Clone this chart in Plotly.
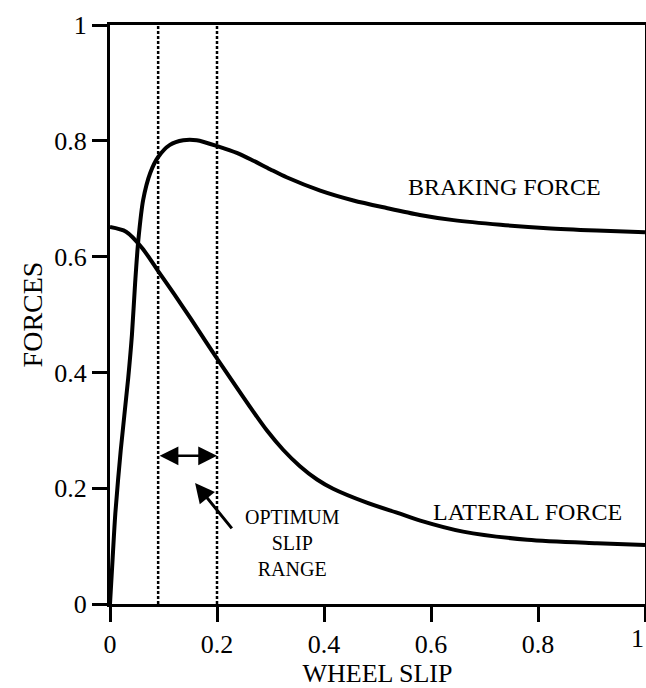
import plotly.graph_objects as go

# Data
braking_x = [0, 0.005, 0.01, 0.02, 0.034, 0.041, 0.047, 0.053, 0.062, 0.075, 0.09, 0.112,
             0.137, 0.162, 0.206, 0.237, 0.267, 0.299, 0.33, 0.393, 0.455, 0.517, 0.579,
             0.642, 0.73, 0.817, 0.91, 1.00]
braking_y = [0, 0.08, 0.157, 0.265, 0.39, 0.465, 0.555, 0.629, 0.698, 0.744, 0.772, 0.793,
             0.801, 0.801, 0.789, 0.779, 0.766, 0.751, 0.737, 0.714, 0.697, 0.684, 0.672,
             0.663, 0.655, 0.649, 0.645, 0.642]

lateral_x = [0, 0.03, 0.06, 0.09, 0.12, 0.15, 0.18, 0.2, 0.23, 0.262, 0.293, 0.324,
             0.355, 0.387, 0.417, 0.48, 0.542, 0.58, 0.66, 0.78, 0.91, 1.00]
lateral_y = [0.651, 0.643, 0.615, 0.575, 0.535, 0.494, 0.452, 0.424, 0.383, 0.34, 0.300,
             0.266, 0.238, 0.215, 0.199, 0.175, 0.156, 0.144, 0.125, 0.111, 0.105, 0.102]

optimum_range = [0.09, 0.20]
range_arrow_y = 0.256
pointer_head = (0.159, 0.209)
pointer_tail = (0.23, 0.128)

tick_vals = [0, 0.2, 0.4, 0.6, 0.8, 1]
tick_text = ["0", "0.2", "0.4", "0.6", "0.8", "1"]

FONT = "Liberation Serif"

fig = go.Figure()
fig.add_trace(go.Scatter(x=braking_x, y=braking_y, mode="lines",
                         line=dict(color="black", width=4, shape="spline", smoothing=0.8),
                         showlegend=False))
fig.add_trace(go.Scatter(x=lateral_x, y=lateral_y, mode="lines",
                         line=dict(color="black", width=4, shape="spline", smoothing=0.8),
                         showlegend=False))

for xv in optimum_range:
    fig.add_trace(go.Scatter(x=[xv, xv], y=[0, 1], mode="lines",
                             line=dict(color="black", width=2.5, dash="3px,2px"),
                             showlegend=False))

# double-headed arrow
fig.add_annotation(x=optimum_range[1], y=range_arrow_y, ax=optimum_range[0], ay=range_arrow_y,
                   xref="x", yref="y", axref="x", ayref="y", text="", showarrow=True,
                   arrowhead=2, arrowside="end+start", arrowsize=1.5, arrowwidth=2.5,
                   arrowcolor="black")
# pointer arrow
fig.add_annotation(x=pointer_head[0], y=pointer_head[1], ax=pointer_tail[0], ay=pointer_tail[1],
                   xref="x", yref="y", axref="x", ayref="y", text="", showarrow=True,
                   arrowhead=2, arrowsize=1.3, arrowwidth=3, arrowcolor="black")

fig.add_annotation(x=0.342, y=0.105, xref="x", yref="y", text="OPTIMUM<br>SLIP<br>RANGE",
                   showarrow=False, font=dict(family=FONT, size=20, color="black"), align="center")
fig.add_annotation(x=0.738, y=0.72, xref="x", yref="y", text="BRAKING FORCE",
                   showarrow=False, font=dict(family=FONT, size=24, color="black"))
fig.add_annotation(x=0.78, y=0.159, xref="x", yref="y", text="LATERAL FORCE",
                   showarrow=False, font=dict(family=FONT, size=24, color="black"))

axis_common = dict(
    tickvals=tick_vals, ticks="outside", ticklen=15, tickwidth=3,
    tickcolor="black", showline=True, linewidth=3, linecolor="black", mirror=True,
    showgrid=False, zeroline=False, range=[0, 1],
    automargin=False,
    tickfont=dict(family=FONT, size=26, color="black"),
)

# last x label sits at the window edge: draw it right-anchored so it stays inside
x_ticktext = tick_text[:-1] + [""]
fig.add_annotation(x=tick_vals[-1], y=0, xref="x", yref="y", yshift=-34,
                   text=tick_text[-1], showarrow=False, xanchor="right", xshift=1,
                   font=dict(family=FONT, size=26, color="black"))

fig.update_xaxes(**axis_common, ticktext=x_ticktext,
                 title=dict(text="WHEEL SLIP", font=dict(family=FONT, size=26, color="black"),
                            standoff=6))
fig.update_yaxes(**axis_common, ticktext=tick_text,
                 title=dict(text="FORCES", font=dict(family=FONT, size=28, color="black"),
                            standoff=4))

fig.update_layout(
    width=646, height=688,
    margin=dict(l=110, r=1, t=25, b=84),
    paper_bgcolor="white", plot_bgcolor="white",
)

fig.write_html("out.html")
